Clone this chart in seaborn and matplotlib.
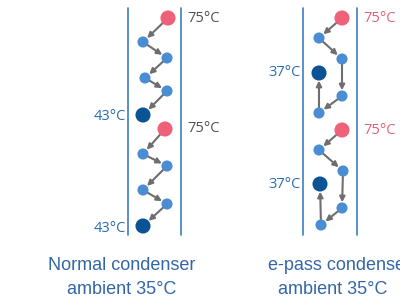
import matplotlib
matplotlib.use("Agg")
import matplotlib.pyplot as plt
import seaborn as sns
import pandas as pd

sns.set_theme(style="white")
plt.rcParams['font.family'] = ['Liberation Sans', 'DejaVu Sans']

# ---- data (diagram positions in pixel space) ----
left_x = [168, 143, 167, 145, 167, 143, 165, 143, 167, 143, 167, 143]
left_y = [18, 42, 58, 78, 91, 115, 129, 154, 166, 190, 204, 226]
left_kind = ["hot", "mid", "mid", "mid", "mid", "cold", "hot", "mid", "mid", "mid", "mid", "cold"]

right_x = [342, 319, 342, 319, 342, 319, 342, 319, 343, 320, 342, 321]
right_y = [18, 38, 59, 73, 96, 113, 130, 150, 171, 184, 208, 225]
right_kind = ["hot", "mid", "mid", "cold", "mid", "mid", "hot", "mid", "mid", "cold", "mid", "mid"]

# flow order (index pairs) for arrows
left_flow = [(0, 1), (1, 2), (2, 3), (3, 4), (4, 5), (6, 7), (7, 8), (8, 9), (9, 10), (10, 11)]
right_flow = [(0, 1), (1, 2), (2, 4), (4, 5), (5, 3), (6, 7), (7, 8), (8, 10), (10, 11), (11, 9)]

hot_label = "75°C"
left_cold_label = "43°C"
right_cold_label = "37°C"
left_title = ["Normal condenser", "ambient 35°C"]
right_title = ["e-pass condenser", "ambient 35°C"]

colors = {"hot": "#EF6079", "mid": "#4A8DD3", "cold": "#0B5394"}
sizes = {"hot": 118, "mid": 64, "cold": 118}
shrink = {"hot": 5.0, "mid": 3.6, "cold": 5.0}

df = pd.concat([
    pd.DataFrame({"x": left_x, "y": left_y, "kind": left_kind}),
    pd.DataFrame({"x": right_x, "y": right_y, "kind": right_kind}),
])

fig = plt.figure(figsize=(4, 3), dpi=100)
ax = fig.add_axes([0, 0, 1, 1])

# condenser walls
for xv in [128, 181, 303, 357]:
    ax.plot([xv, xv], [8, 235], color="#3D7EBF", lw=1.2, zorder=1)

# arrows
arrow_col = "#6E6E6E"
for xs, ys, ks, flow in [(left_x, left_y, left_kind, left_flow),
                         (right_x, right_y, right_kind, right_flow)]:
    for a, b in flow:
        ax.annotate("", xy=(xs[b], ys[b]), xytext=(xs[a], ys[a]),
                    arrowprops=dict(arrowstyle="-|>", color=arrow_col, lw=1.5,
                                    mutation_scale=8, shrinkA=shrink[ks[a]],
                                    shrinkB=shrink[ks[b]] + 0.5),
                    zorder=2)

sns.scatterplot(data=df, x="x", y="y", hue="kind", size="kind",
                palette=colors, sizes=sizes, linewidth=0, legend=False,
                ax=ax, zorder=3)
ax.set_xlim(0, 400)
ax.set_ylim(300, 0)
ax.axis("off")

fs = 10.5
lab_font = ['Open Sans', 'DejaVu Sans']
# left labels
for i in [0, 6]:
    ax.text(187, left_y[i], hot_label, color="#505050", fontsize=fs, va="center", ha="left", family=lab_font)
for i in [5, 11]:
    ax.text(126, left_y[i] + 2, left_cold_label, color="#2A6FB0", fontsize=fs, va="center", ha="right", family=lab_font)
# right labels
for i in [0, 6]:
    ax.text(363, right_y[i], hot_label, color="#E5607A", fontsize=fs, va="center", ha="left", family=lab_font)
for i in [3, 9]:
    ax.text(301, right_y[i], right_cold_label, color="#2A6FB0", fontsize=fs, va="center", ha="right", family=lab_font)

tcol = "#3366A8"
ax.text(122, 266, left_title[0], color=tcol, fontsize=13, ha="center", va="center")
ax.text(122, 289, left_title[1], color=tcol, fontsize=13, ha="center", va="center")
ax.text(268, 266, right_title[0], color=tcol, fontsize=13, ha="left", va="center")
ax.text(332.5, 289, right_title[1], color=tcol, fontsize=13, ha="center", va="center")

fig.savefig("out.png", dpi=100)
